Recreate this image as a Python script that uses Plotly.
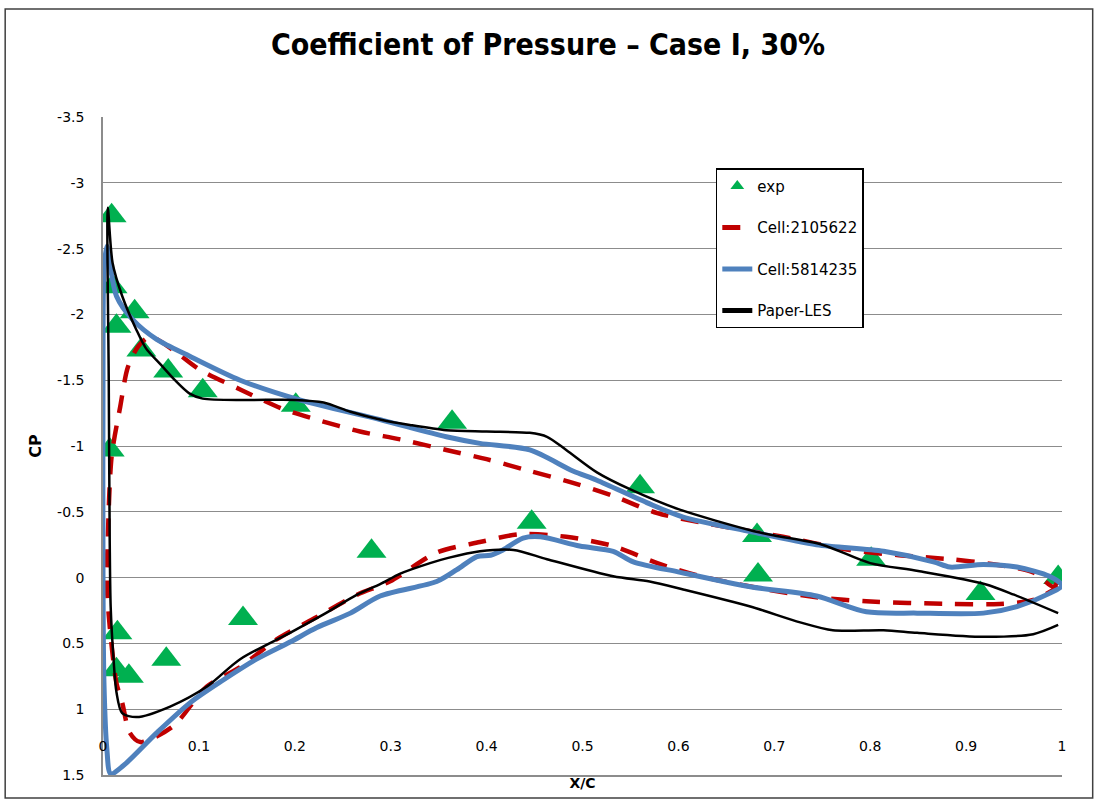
import plotly.graph_objects as go

# Experimental pressure taps
exp_x = [0.009, 0.010, 0.014, 0.033, 0.040, 0.068, 0.104, 0.201, 0.364, 0.560, 0.682, 0.801, 0.996,
         0.007, 0.015, 0.014, 0.027, 0.066, 0.146, 0.280, 0.447, 0.683, 0.915]
exp_cp = [-2.75, -2.21, -1.91, -2.02, -1.73, -1.57, -1.42, -1.31, -1.18, -0.69, -0.32, -0.14, 0.00,
          -0.97, 0.42, 0.70, 0.75, 0.62, 0.31, -0.20, -0.42, -0.02, 0.12]

# Coarse mesh (Cell:2105622): trailing edge -> upper surface -> leading edge -> lower surface
c1_x = [0.996, 0.991, 0.970, 0.930, 0.883, 0.830, 0.779, 0.709, 0.623, 0.578, 0.532, 0.490, 0.445,
        0.400, 0.358, 0.310, 0.268, 0.223, 0.188, 0.143, 0.101, 0.073, 0.049, 0.037, 0.026, 0.018,
        0.009, 0.005, 0.004, 0.007, 0.014, 0.020, 0.028, 0.039, 0.073, 0.108, 0.143, 0.181, 0.223,
        0.265, 0.299, 0.348, 0.393, 0.435, 0.483, 0.532, 0.578, 0.623, 0.692, 0.744, 0.796, 0.883,
        0.935, 0.970, 0.996]
c1_cp = [0.02, 0.07, -0.04, -0.10, -0.14, -0.17, -0.21, -0.31, -0.42, -0.49, -0.62, -0.72, -0.81,
         -0.90, -0.97, -1.05, -1.11, -1.20, -1.28, -1.43, -1.58, -1.73, -1.83, -1.76, -1.60, -1.30,
         -0.92, -0.30, 0.05, 0.37, 0.80, 0.95, 1.18, 1.25, 1.13, 0.83, 0.68, 0.47, 0.30,
         0.13, 0.03, -0.19, -0.27, -0.33, -0.31, -0.24, -0.11, -0.01, 0.09, 0.15, 0.18, 0.20,
         0.20, 0.17, 0.07]

# Fine mesh (Cell:5814235)
c2_x = [1.000, 0.987, 0.953, 0.918, 0.883, 0.866, 0.814, 0.744, 0.675, 0.605, 0.567, 0.515, 0.490,
        0.445, 0.393, 0.358, 0.289, 0.205, 0.143, 0.091, 0.056, 0.031, 0.014, 0.007, 0.004,
        0.001, 0.000, 0.000, 0.001, 0.004, 0.008, 0.021, 0.056, 0.091, 0.125, 0.160, 0.195, 0.223,
        0.258, 0.289, 0.348, 0.369, 0.390, 0.404, 0.417, 0.438, 0.456, 0.497, 0.532, 0.553, 0.602,
        0.675, 0.744, 0.796, 0.849, 0.918, 0.953, 0.987, 1.000]
c2_cp = [0.06, -0.01, -0.08, -0.10, -0.08, -0.12, -0.20, -0.25, -0.35, -0.46, -0.57, -0.74, -0.81,
         -0.97, -1.02, -1.07, -1.20, -1.35, -1.50, -1.68, -1.81, -1.96, -2.14, -2.39, -2.52,
         -2.34, -1.50, 0.00, 0.80, 1.30, 1.49, 1.43, 1.18, 0.95, 0.78, 0.62, 0.49, 0.38,
         0.27, 0.14, 0.03, -0.06, -0.16, -0.17, -0.21, -0.30, -0.31, -0.24, -0.20, -0.12, -0.04,
         0.07, 0.14, 0.26, 0.27, 0.27, 0.22, 0.12, 0.06]

# Reference LES
les_x = [0.996, 0.950, 0.920, 0.850, 0.800, 0.750, 0.700, 0.675, 0.600, 0.550, 0.515, 0.483, 0.463,
         0.445, 0.400, 0.358, 0.320, 0.290, 0.258, 0.230, 0.200, 0.150, 0.104, 0.090, 0.075, 0.060,
         0.045, 0.035, 0.020, 0.010, 0.005, 0.006, 0.007, 0.008, 0.011, 0.014, 0.020, 0.035, 0.070,
         0.108, 0.143, 0.195, 0.230, 0.265, 0.289, 0.310, 0.341, 0.360, 0.393, 0.428, 0.463,
         0.532, 0.570, 0.605, 0.675, 0.727, 0.761, 0.814, 0.849, 0.918, 0.970, 0.996]
les_cp = [0.27, 0.13, 0.05, -0.05, -0.11, -0.25, -0.32, -0.36, -0.52, -0.67, -0.80, -0.97, -1.07,
          -1.10, -1.11, -1.12, -1.16, -1.20, -1.26, -1.33, -1.35, -1.35, -1.36, -1.40, -1.50, -1.62,
          -1.74, -1.88, -2.14, -2.39, -2.81, -1.50, -0.29, 0.22, 0.62, 0.87, 1.03, 1.06, 0.98,
          0.83, 0.62, 0.42, 0.28, 0.13, 0.05, -0.03, -0.11, -0.15, -0.20, -0.21, -0.14,
          -0.01, 0.03, 0.09, 0.22, 0.34, 0.40, 0.40, 0.42, 0.45, 0.43, 0.36]

y_ticks = [-3.5, -3, -2.5, -2, -1.5, -1, -0.5, 0, 0.5, 1, 1.5]
y_ticktext = ["-3.5", "-3", "-2.5", "-2", "-1.5", "-1", "-0.5", "0", "0.5", "1", "1.5"]
x_ticks = [0, 0.1, 0.2, 0.3, 0.4, 0.5, 0.6, 0.7, 0.8, 0.9, 1]
x_ticktext = ["0", "0.1", "0.2", "0.3", "0.4", "0.5", "0.6", "0.7", "0.8", "0.9", "1"]

FONT = "DejaVu Sans, Verdana, sans-serif"
GRID = "#8c8c8c"

fig = go.Figure()
fig.add_trace(go.Scatter(
    x=exp_x, y=exp_cp, mode="markers", name="exp", legendgroup="a",
    marker=dict(symbol="triangle-up", size=26, color="#00B050"),
))
fig.add_trace(go.Scatter(
    x=c1_x, y=c1_cp, mode="lines", name="Cell:2105622", legendgroup="b",
    line=dict(color="#C00000", width=4.5, dash="18px,13px", shape="spline", smoothing=0.8),
))
fig.add_trace(go.Scatter(
    x=c2_x, y=c2_cp, mode="lines", name="Cell:5814235", legendgroup="c",
    line=dict(color="#4F81BD", width=5, shape="spline", smoothing=0.8),
))
fig.add_trace(go.Scatter(
    x=les_x, y=les_cp, mode="lines", name="Paper-LES", legendgroup="d",
    line=dict(color="#000000", width=2.5, shape="spline", smoothing=0.8),
))
# axis carrying only the category labels, raised above the bottom frame
fig.add_trace(go.Scatter(x=[0, 1], y=[None, None], xaxis="x2", showlegend=False, hoverinfo="skip"))

fig.update_layout(
    width=1096, height=801,
    margin=dict(l=103, r=34, t=117, b=26),
    paper_bgcolor="white", plot_bgcolor="white",
    font=dict(family=FONT, size=14, color="#000000"),
    title=dict(
        text="<b>Coefficient of Pressure – Case I, 30%</b>",
        x=0.5, xanchor="center", y=0.944, yanchor="middle",
        font=dict(family="Liberation Sans Narrow, DejaVu Sans Condensed, Arial Narrow, sans-serif",
                  size=30, color="#000000"),
    ),
    xaxis=dict(
        range=[0, 1], showgrid=False, zeroline=False,
        showline=True, linecolor=GRID, linewidth=1.5,
        showticklabels=False, ticks="",
        title=dict(text="<b>X/C</b>", standoff=2, font=dict(size=14)),
    ),
    xaxis2=dict(
        range=[0, 1], overlaying="x", anchor="free", position=0.06, side="bottom",
        tickvals=x_ticks, ticktext=x_ticktext, showgrid=False, zeroline=False,
        showline=False, ticks="", tickfont=dict(size=14),
    ),
    yaxis=dict(
        range=[1.5, -3.5], tickvals=y_ticks, ticktext=y_ticktext,
        showgrid=True, gridcolor=GRID, gridwidth=1.3, zeroline=False,
        showline=True, linecolor=GRID, linewidth=1.5, ticks="",
        ticklabelstandoff=14, tickfont=dict(size=14),
        title=dict(text="<b>CP</b>", standoff=12, font=dict(size=16)),
    ),
    legend=dict(
        x=0.639, y=0.922, xanchor="left", yanchor="top",
        bgcolor="white", bordercolor="#000000", borderwidth=1.5,
        font=dict(size=15), itemsizing="constant", tracegroupgap=19,
    ),
    shapes=[dict(type="rect", xref="paper", yref="paper",
                 x0=-0.102, x1=1.032, y0=-0.035, y1=1.164,
                 line=dict(color="#404040", width=1.5))],
)

fig.write_html("out.html")
